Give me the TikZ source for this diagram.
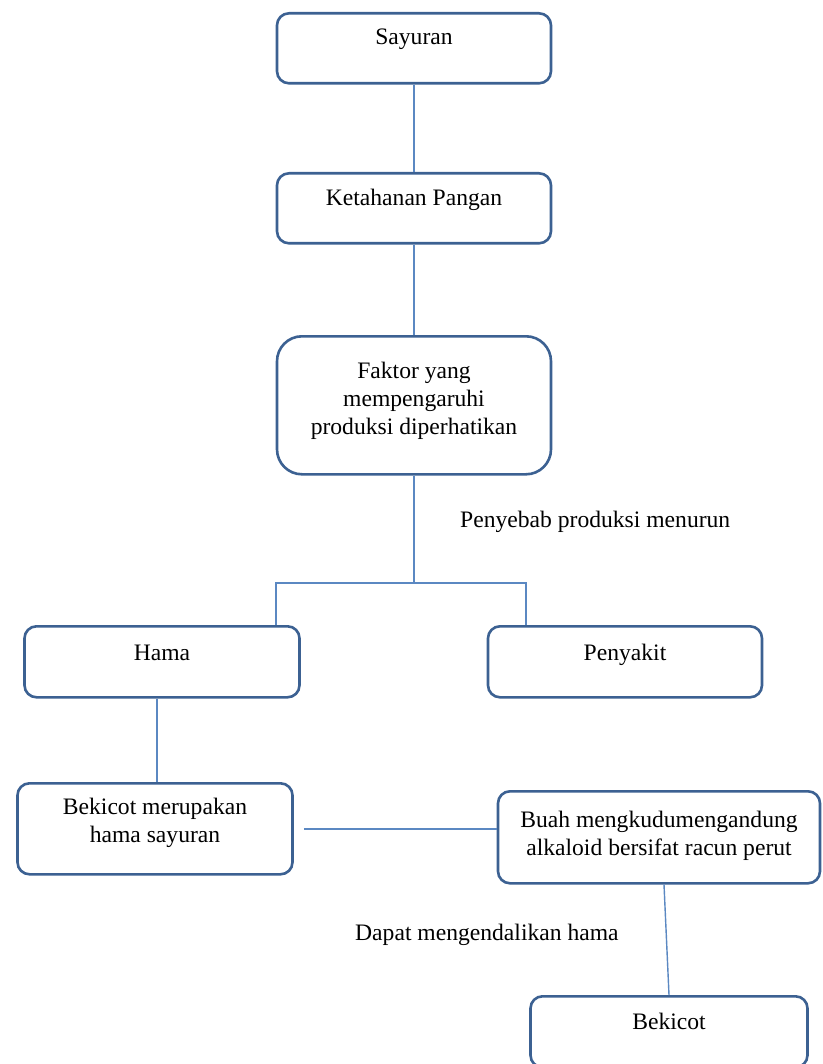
\documentclass[tikz,border=0pt]{standalone}
\usepackage{fontspec}
\setmainfont{Liberation Serif}
\usepackage{tikz}
\usetikzlibrary{calc}

\definecolor{boxblue}{HTML}{3C6192}
\definecolor{lineblue}{HTML}{5B88C2}

\begin{document}
\begin{tikzpicture}[x=1pt, y=-1pt,
        box/.style={draw=boxblue, line width=2.6pt, fill=white, rounded corners=12pt,
            inner sep=0pt, minimum width=274pt, align=center, anchor=north,
            font=\fontsize{23.6}{28}\selectfont},
        link/.style={draw=lineblue, line width=1.4pt},
        note/.style={anchor=base west, inner sep=0pt, font=\fontsize{23.6}{28}\selectfont}]
        \useasboundingbox (0,0) rectangle (822,1064);
        % boxes
        \node[box, text height=31pt, text depth=39pt] (sayuran) at (414,12) {Sayuran};
        \node[box, text height=32pt, text depth=38pt] (ketahanan) at (414,172) {Ketahanan Pangan};
        \node[box, rounded corners=25pt, text height=98pt, text depth=40pt] (faktor) at (414,335)
            {Faktor yang\\mempengaruhi\\produksi diperhatikan};
        \node[box, minimum width=275pt, text height=34pt, text depth=37pt] (hama) at (162,625) {Hama};
        \node[box, text height=34pt, text depth=37pt] (penyakit) at (625,625) {Penyakit};
        \node[box, minimum width=275pt, text height=59pt, text depth=32pt] (bekicotHama) at (155,782)
            {Bekicot merupakan\\hama sayuran};
        \node[box, minimum width=322pt, text height=64pt, text depth=28pt] (mengkudu) at (659,790)
            {Buah mengkudumengandung\\alkaloid bersifat racun perut};
        \node[box, minimum width=277pt, text height=33pt, text depth=38pt] (bekicot) at (669,995) {Bekicot};
        % connectors
        \coordinate (branch) at (414,583);
        \draw[link] (sayuran.south) -- (ketahanan.north);
        \draw[link] (ketahanan.south) -- (faktor.north);
        \draw[link] (faktor.south) -- (branch);
        \draw[link] (branch) -| ([xshift=114pt]hama.north);
        \draw[link] (branch) -| ([xshift=-99pt]penyakit.north);
        \draw[link] ([xshift=-5pt]hama.south) -- ([xshift=2pt]bekicotHama.north);
        \draw[link, shorten <=10pt] (bekicotHama.east) -- (bekicotHama.east -| mengkudu.west);
        \draw[link] ([xshift=5pt]mengkudu.south) -- (bekicot.north);
        % labels
        \node[note] (cause) at (460,527) {Penyebab produksi menurun};
        \node[note] (control) at (355,940) {Dapat mengendalikan hama};
\end{tikzpicture}
\end{document}
